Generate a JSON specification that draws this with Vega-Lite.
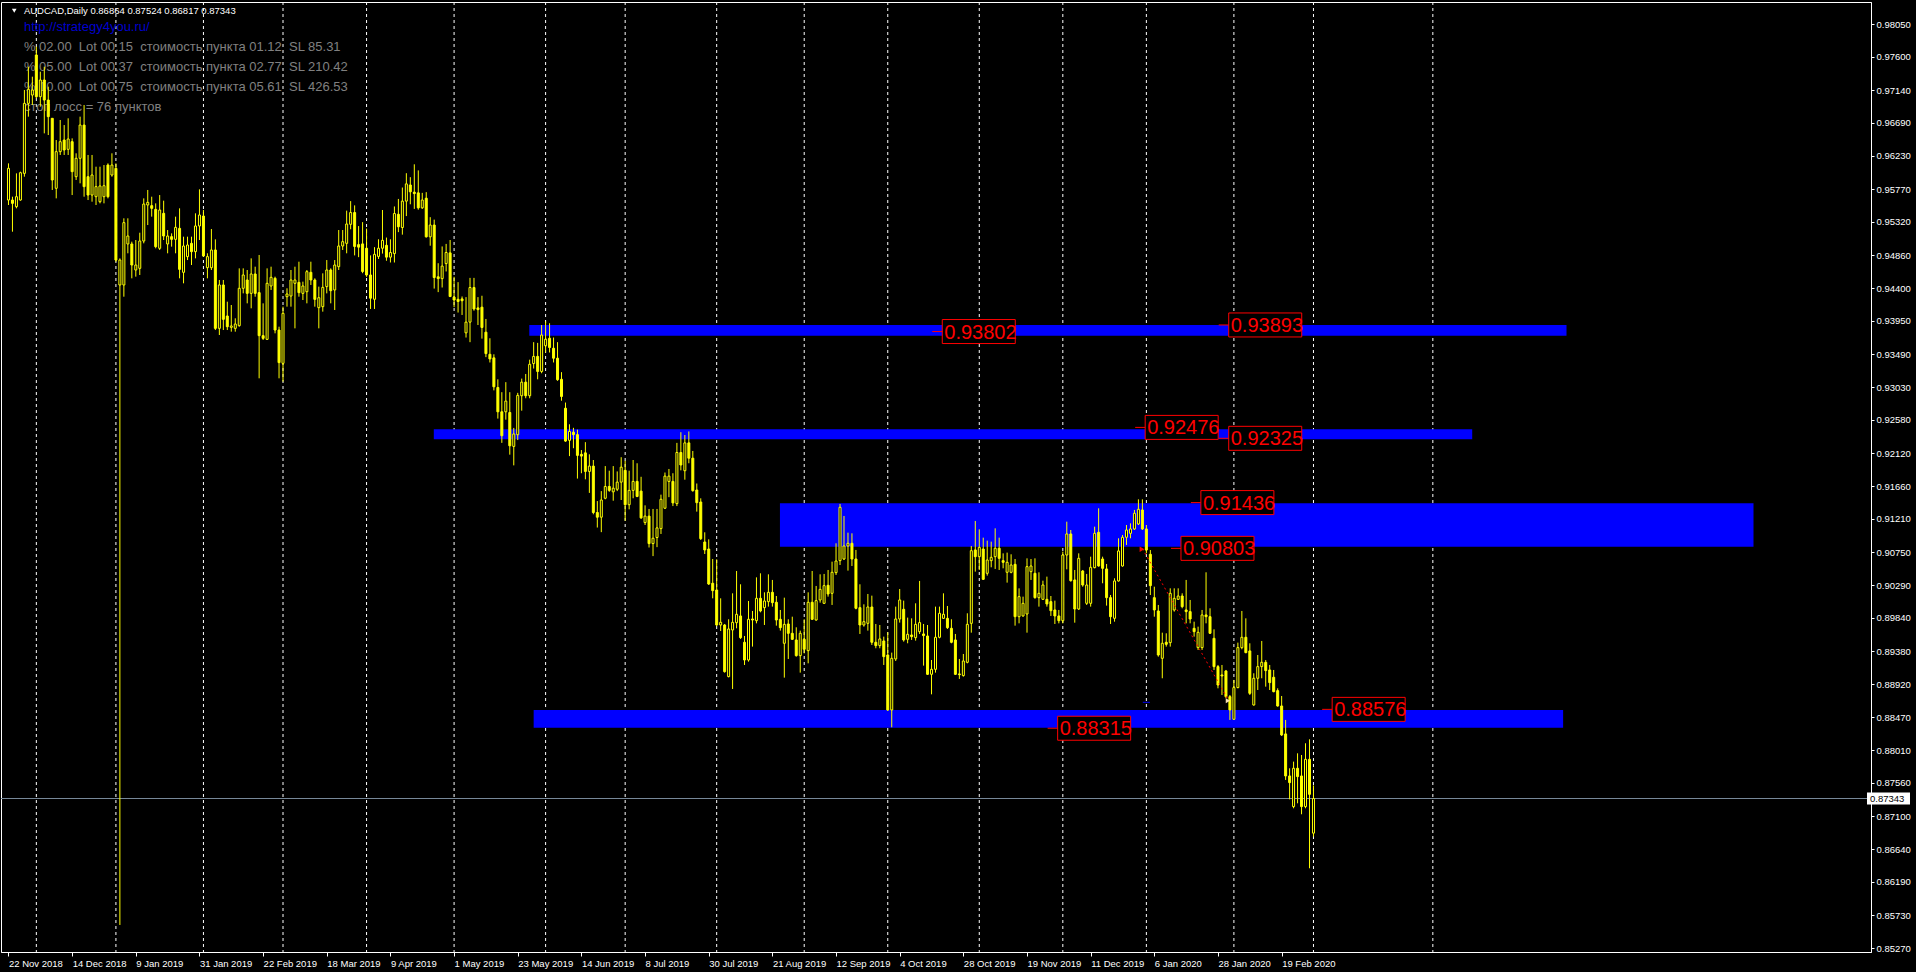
{
"$schema":"https://vega.github.io/schema/vega-lite/v6.json",
"width":1870,"height":950,
"autosize":{"type":"none"},
"padding":{"left":1,"top":2,"right":45,"bottom":20},
"background":"#000000",
"config":{"view":{"stroke":"#FFFFFF","strokeWidth":1},"font":"Liberation Sans",
 "axis":{"labelOverlap":false,"labelFlush":false,"grid":false,"labelColor":"#FFFFFF","tickColor":"#FFFFFF","domainColor":"#FFFFFF","labelFont":"Liberation Sans","labelFontSize":9.5,"labelSeparation":0}},
"datasets":{
"sep":[{"m":7},{"m":27},{"m":49},{"m":69},{"m":90},{"m":112},{"m":135},{"m":155},{"m":178},{"m":200},{"m":221},{"m":244},{"m":265},{"m":286},{"m":308},{"m":328},{"m":358}],
"zones":[{"t1":130.9,"t2":391.6,"p1":0.93892,"p2":0.93744},{"t1":106.9,"t2":367.9,"p1":0.92450,"p2":0.92312},{"t1":193.9,"t2":438.6,"p1":0.91426,"p2":0.90826},{"t1":132,"t2":390.75,"p1":0.88567,"p2":0.88323}],
"tags":[{"t":234.7,"p":0.93802},{"t":306.7,"p":0.93893},{"t":285.7,"p":0.92476},{"t":306.7,"p":0.92325},{"t":299.7,"p":0.91436},{"t":294.7,"p":0.90803},{"t":263.7,"p":0.88315},{"t":332.7,"p":0.88576}],
"bars":[
{"i":0,"o":0.95621,"h":0.96128,"l":0.95552,"c":0.96059},
{"i":1,"o":0.95621,"h":0.95667,"l":0.95183,"c":0.95575},
{"i":2,"o":0.95529,"h":0.95990,"l":0.95506,"c":0.95667},
{"i":3,"o":0.95621,"h":0.96013,"l":0.95612,"c":0.95999},
{"i":4,"o":0.95990,"h":0.97143,"l":0.95944,"c":0.96958},
{"i":5,"o":0.96958,"h":0.97465,"l":0.96774,"c":0.97152},
{"i":6,"o":0.97073,"h":0.97327,"l":0.96935,"c":0.97143},
{"i":7,"o":0.97627,"h":0.97742,"l":0.97027,"c":0.97050},
{"i":8,"o":0.97050,"h":0.97396,"l":0.96912,"c":0.97281},
{"i":9,"o":0.97281,"h":0.97465,"l":0.96543,"c":0.97004},
{"i":10,"o":0.97004,"h":0.97189,"l":0.96520,"c":0.96774},
{"i":11,"o":0.96751,"h":0.96751,"l":0.95760,"c":0.95898},
{"i":12,"o":0.95783,"h":0.96451,"l":0.95644,"c":0.96290},
{"i":13,"o":0.96290,"h":0.96728,"l":0.96244,"c":0.96428},
{"i":14,"o":0.96451,"h":0.96658,"l":0.96244,"c":0.96313},
{"i":15,"o":0.96322,"h":0.96751,"l":0.96244,"c":0.96465},
{"i":16,"o":0.96428,"h":0.96474,"l":0.95690,"c":0.96013},
{"i":17,"o":0.95944,"h":0.96267,"l":0.95898,"c":0.96198},
{"i":18,"o":0.96198,"h":0.96774,"l":0.95852,"c":0.96658},
{"i":19,"o":0.96658,"h":0.96935,"l":0.95667,"c":0.95806},
{"i":20,"o":0.95944,"h":0.96244,"l":0.95621,"c":0.95690},
{"i":21,"o":0.95690,"h":0.96244,"l":0.95598,"c":0.95967},
{"i":22,"o":0.95667,"h":0.96082,"l":0.95552,"c":0.95806},
{"i":23,"o":0.95598,"h":0.96082,"l":0.95575,"c":0.95815},
{"i":24,"o":0.95667,"h":0.96105,"l":0.95575,"c":0.95819},
{"i":25,"o":0.96105,"h":0.96128,"l":0.95644,"c":0.95667},
{"i":26,"o":0.95967,"h":0.96267,"l":0.95944,"c":0.96105},
{"i":27,"o":0.96059,"h":0.96128,"l":0.94768,"c":0.94791},
{"i":28,"o":0.94446,"h":0.94814,"l":0.85594,"c":0.94791},
{"i":29,"o":0.94446,"h":0.95368,"l":0.94284,"c":0.95308},
{"i":30,"o":0.95013,"h":0.95368,"l":0.94884,"c":0.95123},
{"i":31,"o":0.95013,"h":0.95045,"l":0.94538,"c":0.94722},
{"i":32,"o":0.94653,"h":0.95068,"l":0.94561,"c":0.94722},
{"i":33,"o":0.94676,"h":0.95169,"l":0.94584,"c":0.95054},
{"i":34,"o":0.95054,"h":0.95644,"l":0.95022,"c":0.95566},
{"i":35,"o":0.95552,"h":0.95760,"l":0.95275,"c":0.95589},
{"i":36,"o":0.95543,"h":0.95667,"l":0.95391,"c":0.95506},
{"i":37,"o":0.95492,"h":0.95575,"l":0.94953,"c":0.94976},
{"i":38,"o":0.94953,"h":0.95690,"l":0.94930,"c":0.95483},
{"i":39,"o":0.95437,"h":0.95612,"l":0.95068,"c":0.95123},
{"i":40,"o":0.95013,"h":0.95206,"l":0.94884,"c":0.95123},
{"i":41,"o":0.95114,"h":0.95160,"l":0.94976,"c":0.95077},
{"i":42,"o":0.95077,"h":0.95391,"l":0.94884,"c":0.95243},
{"i":43,"o":0.95229,"h":0.95506,"l":0.94538,"c":0.94662},
{"i":44,"o":0.94621,"h":0.95114,"l":0.94469,"c":0.94985},
{"i":45,"o":0.94838,"h":0.95114,"l":0.94791,"c":0.94999},
{"i":46,"o":0.95022,"h":0.95114,"l":0.94722,"c":0.94907},
{"i":47,"o":0.94907,"h":0.95437,"l":0.94814,"c":0.95262},
{"i":48,"o":0.95262,"h":0.95769,"l":0.95068,"c":0.95414},
{"i":49,"o":0.95400,"h":0.95483,"l":0.94838,"c":0.94847},
{"i":50,"o":0.94685,"h":0.94884,"l":0.94538,"c":0.94838},
{"i":51,"o":0.94685,"h":0.95220,"l":0.94653,"c":0.94930},
{"i":52,"o":0.94930,"h":0.95077,"l":0.93823,"c":0.93846},
{"i":53,"o":0.93846,"h":0.94515,"l":0.93754,"c":0.94446},
{"i":54,"o":0.94446,"h":0.94515,"l":0.93823,"c":0.93971},
{"i":55,"o":0.94017,"h":0.94215,"l":0.93823,"c":0.93869},
{"i":56,"o":0.93860,"h":0.94169,"l":0.93800,"c":0.93879},
{"i":57,"o":0.93846,"h":0.93985,"l":0.93800,"c":0.93906},
{"i":58,"o":0.93883,"h":0.94676,"l":0.93869,"c":0.94400},
{"i":59,"o":0.94400,"h":0.94676,"l":0.94330,"c":0.94584},
{"i":60,"o":0.94515,"h":0.94653,"l":0.94192,"c":0.94330},
{"i":61,"o":0.94330,"h":0.94814,"l":0.94123,"c":0.94598},
{"i":62,"o":0.94598,"h":0.94699,"l":0.94284,"c":0.94330},
{"i":63,"o":0.94340,"h":0.94861,"l":0.93155,"c":0.93745},
{"i":64,"o":0.93745,"h":0.94192,"l":0.93685,"c":0.93708},
{"i":65,"o":0.93694,"h":0.94676,"l":0.93685,"c":0.94469},
{"i":66,"o":0.94432,"h":0.94699,"l":0.94377,"c":0.94552},
{"i":67,"o":0.94538,"h":0.94561,"l":0.93777,"c":0.93823},
{"i":68,"o":0.93823,"h":0.93869,"l":0.93155,"c":0.93372},
{"i":69,"o":0.93362,"h":0.94146,"l":0.93109,"c":0.94054},
{"i":70,"o":0.94284,"h":0.94400,"l":0.94146,"c":0.94321},
{"i":71,"o":0.94293,"h":0.94653,"l":0.94146,"c":0.94515},
{"i":72,"o":0.94469,"h":0.94699,"l":0.93846,"c":0.94515},
{"i":73,"o":0.94482,"h":0.94768,"l":0.94284,"c":0.94340},
{"i":74,"o":0.94330,"h":0.94492,"l":0.94238,"c":0.94432},
{"i":75,"o":0.94353,"h":0.94653,"l":0.94192,"c":0.94630},
{"i":76,"o":0.94621,"h":0.94768,"l":0.94446,"c":0.94515},
{"i":77,"o":0.94515,"h":0.94538,"l":0.94146,"c":0.94247},
{"i":78,"o":0.94132,"h":0.94423,"l":0.93846,"c":0.94270},
{"i":79,"o":0.94146,"h":0.94607,"l":0.94077,"c":0.94413},
{"i":80,"o":0.94423,"h":0.94791,"l":0.94330,"c":0.94653},
{"i":81,"o":0.94653,"h":0.94676,"l":0.94192,"c":0.94367},
{"i":82,"o":0.94377,"h":0.94791,"l":0.94100,"c":0.94722},
{"i":83,"o":0.94699,"h":0.95206,"l":0.94653,"c":0.94985},
{"i":84,"o":0.94985,"h":0.95206,"l":0.94930,"c":0.95045},
{"i":85,"o":0.95022,"h":0.95474,"l":0.94884,"c":0.95289},
{"i":86,"o":0.95285,"h":0.95606,"l":0.95216,"c":0.95448},
{"i":87,"o":0.95448,"h":0.95547,"l":0.94855,"c":0.94979},
{"i":88,"o":0.95004,"h":0.95261,"l":0.94831,"c":0.94969},
{"i":89,"o":0.95014,"h":0.95315,"l":0.94609,"c":0.94633},
{"i":90,"o":0.94954,"h":0.95226,"l":0.94559,"c":0.94584},
{"i":91,"o":0.94584,"h":0.94855,"l":0.94114,"c":0.94263},
{"i":92,"o":0.94248,"h":0.94969,"l":0.94114,"c":0.94870},
{"i":93,"o":0.94841,"h":0.95078,"l":0.94806,"c":0.94954},
{"i":94,"o":0.94954,"h":0.95483,"l":0.94880,"c":0.95063},
{"i":95,"o":0.94994,"h":0.95102,"l":0.94781,"c":0.94831},
{"i":96,"o":0.94831,"h":0.95078,"l":0.94757,"c":0.94895},
{"i":97,"o":0.94880,"h":0.95532,"l":0.94757,"c":0.95434},
{"i":98,"o":0.95424,"h":0.95636,"l":0.95177,"c":0.95251},
{"i":99,"o":0.95241,"h":0.95794,"l":0.95142,"c":0.95606},
{"i":100,"o":0.95606,"h":0.95992,"l":0.95399,"c":0.95844},
{"i":101,"o":0.95829,"h":0.95937,"l":0.95562,"c":0.95735},
{"i":102,"o":0.95730,"h":0.96115,"l":0.95498,"c":0.95710},
{"i":103,"o":0.95720,"h":0.96031,"l":0.95488,"c":0.95513},
{"i":104,"o":0.95513,"h":0.95720,"l":0.95498,"c":0.95621},
{"i":105,"o":0.95646,"h":0.95730,"l":0.95102,"c":0.95112},
{"i":106,"o":0.95112,"h":0.95384,"l":0.94989,"c":0.95275},
{"i":107,"o":0.95275,"h":0.95350,"l":0.94396,"c":0.94549},
{"i":108,"o":0.94559,"h":0.94747,"l":0.94347,"c":0.94534},
{"i":109,"o":0.94534,"h":0.94979,"l":0.94411,"c":0.94707},
{"i":110,"o":0.94742,"h":0.95014,"l":0.94633,"c":0.94895},
{"i":111,"o":0.94890,"h":0.95068,"l":0.94278,"c":0.94287},
{"i":112,"o":0.94278,"h":0.94559,"l":0.94139,"c":0.94238},
{"i":113,"o":0.94248,"h":0.94485,"l":0.94065,"c":0.94218},
{"i":114,"o":0.94253,"h":0.94287,"l":0.94031,"c":0.94228},
{"i":115,"o":0.93784,"h":0.94278,"l":0.93719,"c":0.93932},
{"i":116,"o":0.93932,"h":0.94544,"l":0.93655,"c":0.94411},
{"i":117,"o":0.94411,"h":0.94544,"l":0.94090,"c":0.94114},
{"i":118,"o":0.94129,"h":0.94278,"l":0.93892,"c":0.94105},
{"i":119,"o":0.94139,"h":0.94297,"l":0.93704,"c":0.93858},
{"i":120,"o":0.93793,"h":0.93976,"l":0.93448,"c":0.93497},
{"i":121,"o":0.93487,"h":0.93709,"l":0.93374,"c":0.93423},
{"i":122,"o":0.93438,"h":0.93487,"l":0.92988,"c":0.93038},
{"i":123,"o":0.93028,"h":0.93141,"l":0.92598,"c":0.92692},
{"i":124,"o":0.92692,"h":0.92963,"l":0.92262,"c":0.92361},
{"i":125,"o":0.92692,"h":0.93102,"l":0.92583,"c":0.92840},
{"i":126,"o":0.92682,"h":0.92963,"l":0.92099,"c":0.92222},
{"i":127,"o":0.92213,"h":0.92469,"l":0.91951,"c":0.92385},
{"i":128,"o":0.92375,"h":0.92954,"l":0.92301,"c":0.92919},
{"i":129,"o":0.92914,"h":0.93151,"l":0.92707,"c":0.93102},
{"i":130,"o":0.93102,"h":0.93215,"l":0.92879,"c":0.92914},
{"i":131,"o":0.92914,"h":0.93413,"l":0.92879,"c":0.93349},
{"i":132,"o":0.93359,"h":0.93655,"l":0.93290,"c":0.93458},
{"i":133,"o":0.93458,"h":0.93645,"l":0.93141,"c":0.93250},
{"i":134,"o":0.93250,"h":0.93892,"l":0.93225,"c":0.93754},
{"i":135,"o":0.93606,"h":0.93942,"l":0.93512,"c":0.93695},
{"i":136,"o":0.93709,"h":0.93917,"l":0.93512,"c":0.93581},
{"i":137,"o":0.93571,"h":0.93719,"l":0.93374,"c":0.93433},
{"i":138,"o":0.93433,"h":0.93655,"l":0.93120,"c":0.93136},
{"i":139,"o":0.93141,"h":0.93240,"l":0.92845,"c":0.92904},
{"i":140,"o":0.92741,"h":0.92820,"l":0.92277,"c":0.92287},
{"i":141,"o":0.92297,"h":0.92519,"l":0.92079,"c":0.92420},
{"i":142,"o":0.92410,"h":0.92470,"l":0.92188,"c":0.92376},
{"i":143,"o":0.92376,"h":0.92445,"l":0.91768,"c":0.92089},
{"i":144,"o":0.92104,"h":0.92163,"l":0.91842,"c":0.92079},
{"i":145,"o":0.92124,"h":0.92272,"l":0.91758,"c":0.91867},
{"i":146,"o":0.91867,"h":0.92104,"l":0.91570,"c":0.91941},
{"i":147,"o":0.91941,"h":0.92025,"l":0.91274,"c":0.91299},
{"i":148,"o":0.91299,"h":0.91457,"l":0.91091,"c":0.91234},
{"i":149,"o":0.91234,"h":0.91595,"l":0.91027,"c":0.91472},
{"i":150,"o":0.91496,"h":0.91941,"l":0.91482,"c":0.91659},
{"i":151,"o":0.91659,"h":0.91877,"l":0.91585,"c":0.91605},
{"i":152,"o":0.91585,"h":0.91941,"l":0.91462,"c":0.91635},
{"i":153,"o":0.91620,"h":0.91867,"l":0.91595,"c":0.91719},
{"i":154,"o":0.91719,"h":0.92064,"l":0.91472,"c":0.91926},
{"i":155,"o":0.91882,"h":0.92015,"l":0.91185,"c":0.91407},
{"i":156,"o":0.91407,"h":0.91877,"l":0.91343,"c":0.91605},
{"i":157,"o":0.91605,"h":0.92025,"l":0.91496,"c":0.91729},
{"i":158,"o":0.91729,"h":0.91980,"l":0.91511,"c":0.91521},
{"i":159,"o":0.91595,"h":0.91793,"l":0.91210,"c":0.91225},
{"i":160,"o":0.91160,"h":0.91398,"l":0.91126,"c":0.91249},
{"i":161,"o":0.91249,"h":0.91348,"l":0.90815,"c":0.90869},
{"i":162,"o":0.90869,"h":0.91348,"l":0.90696,"c":0.90943},
{"i":163,"o":0.90953,"h":0.91348,"l":0.90820,"c":0.91086},
{"i":164,"o":0.91076,"h":0.91546,"l":0.91002,"c":0.91482},
{"i":165,"o":0.91358,"h":0.91852,"l":0.91348,"c":0.91802},
{"i":166,"o":0.91729,"h":0.91901,"l":0.91511,"c":0.91802},
{"i":167,"o":0.91729,"h":0.91842,"l":0.91388,"c":0.91432},
{"i":168,"o":0.91422,"h":0.92262,"l":0.91388,"c":0.92129},
{"i":169,"o":0.92129,"h":0.92410,"l":0.91882,"c":0.91956},
{"i":170,"o":0.91877,"h":0.92371,"l":0.91753,"c":0.92262},
{"i":171,"o":0.92262,"h":0.92420,"l":0.91980,"c":0.92050},
{"i":172,"o":0.92050,"h":0.92150,"l":0.91587,"c":0.91601},
{"i":173,"o":0.91610,"h":0.91700,"l":0.91311,"c":0.91435},
{"i":174,"o":0.91444,"h":0.91495,"l":0.90919,"c":0.90937},
{"i":175,"o":0.90891,"h":0.91025,"l":0.90725,"c":0.90781},
{"i":176,"o":0.90794,"h":0.90928,"l":0.90296,"c":0.90310},
{"i":177,"o":0.90320,"h":0.90656,"l":0.90112,"c":0.90218},
{"i":178,"o":0.90227,"h":0.90651,"l":0.89729,"c":0.89743},
{"i":179,"o":0.89743,"h":0.90112,"l":0.89660,"c":0.89780},
{"i":180,"o":0.89743,"h":0.89757,"l":0.89084,"c":0.89098},
{"i":181,"o":0.89029,"h":0.89822,"l":0.89019,"c":0.89688},
{"i":182,"o":0.89674,"h":0.90181,"l":0.88858,"c":0.89780},
{"i":183,"o":0.89775,"h":0.90490,"l":0.89697,"c":0.89891},
{"i":184,"o":0.89868,"h":0.90306,"l":0.89550,"c":0.89568},
{"i":185,"o":0.89504,"h":0.89591,"l":0.89190,"c":0.89259},
{"i":186,"o":0.89259,"h":0.90075,"l":0.89236,"c":0.89822},
{"i":187,"o":0.89826,"h":0.89937,"l":0.89444,"c":0.89812},
{"i":188,"o":0.89803,"h":0.90402,"l":0.89766,"c":0.90112},
{"i":189,"o":0.90112,"h":0.90458,"l":0.89918,"c":0.89937},
{"i":190,"o":0.89983,"h":0.90195,"l":0.89743,"c":0.90075},
{"i":191,"o":0.90066,"h":0.90444,"l":0.89997,"c":0.90195},
{"i":192,"o":0.90195,"h":0.90366,"l":0.89997,"c":0.90052},
{"i":193,"o":0.90057,"h":0.90144,"l":0.89734,"c":0.89812},
{"i":194,"o":0.89822,"h":0.89951,"l":0.89665,"c":0.89706},
{"i":195,"o":0.89490,"h":0.90121,"l":0.89015,"c":0.89752},
{"i":196,"o":0.89757,"h":0.89822,"l":0.89273,"c":0.89628},
{"i":197,"o":0.89628,"h":0.89858,"l":0.89536,"c":0.89545},
{"i":198,"o":0.89536,"h":0.89711,"l":0.89305,"c":0.89319},
{"i":199,"o":0.89319,"h":0.89665,"l":0.89084,"c":0.89628},
{"i":200,"o":0.89545,"h":0.89822,"l":0.89351,"c":0.89407},
{"i":201,"o":0.89388,"h":0.90195,"l":0.89213,"c":0.90057},
{"i":202,"o":0.90057,"h":0.90490,"l":0.89812,"c":0.89822},
{"i":203,"o":0.89812,"h":0.90283,"l":0.89803,"c":0.90080},
{"i":204,"o":0.90089,"h":0.90444,"l":0.90052,"c":0.90236},
{"i":205,"o":0.90043,"h":0.90449,"l":0.90034,"c":0.90287},
{"i":206,"o":0.90292,"h":0.90504,"l":0.90135,"c":0.90172},
{"i":207,"o":0.90181,"h":0.90619,"l":0.90020,"c":0.90472},
{"i":208,"o":0.90467,"h":0.90873,"l":0.90435,"c":0.90628},
{"i":209,"o":0.90633,"h":0.91417,"l":0.90573,"c":0.91371},
{"i":210,"o":0.90656,"h":0.91251,"l":0.90642,"c":0.90836},
{"i":211,"o":0.90836,"h":0.91020,"l":0.90495,"c":0.90873},
{"i":212,"o":0.90873,"h":0.91011,"l":0.90559,"c":0.90656},
{"i":213,"o":0.90656,"h":0.90781,"l":0.89960,"c":0.89974},
{"i":214,"o":0.89983,"h":0.90306,"l":0.89619,"c":0.89743},
{"i":215,"o":0.89743,"h":0.90029,"l":0.89720,"c":0.89789},
{"i":216,"o":0.89766,"h":0.90172,"l":0.89665,"c":0.89992},
{"i":217,"o":0.89992,"h":0.90149,"l":0.89467,"c":0.89504},
{"i":218,"o":0.89504,"h":0.89757,"l":0.89421,"c":0.89458},
{"i":219,"o":0.89458,"h":0.89743,"l":0.89421,"c":0.89550},
{"i":220,"o":0.89522,"h":0.89582,"l":0.89190,"c":0.89305},
{"i":221,"o":0.89328,"h":0.89642,"l":0.88554,"c":0.88568},
{"i":222,"o":0.88568,"h":0.89361,"l":0.88328,"c":0.89282},
{"i":223,"o":0.89273,"h":0.89997,"l":0.89245,"c":0.89826},
{"i":224,"o":0.89826,"h":0.90241,"l":0.89776,"c":0.90089},
{"i":225,"o":0.89960,"h":0.90080,"l":0.89513,"c":0.89536},
{"i":226,"o":0.89545,"h":0.89845,"l":0.89490,"c":0.89614},
{"i":227,"o":0.89605,"h":0.89835,"l":0.89536,"c":0.89582},
{"i":228,"o":0.89568,"h":0.90043,"l":0.89527,"c":0.89752},
{"i":229,"o":0.89651,"h":0.90352,"l":0.89619,"c":0.89776},
{"i":230,"o":0.89619,"h":0.89757,"l":0.89181,"c":0.89596},
{"i":231,"o":0.89591,"h":0.89743,"l":0.89052,"c":0.89061},
{"i":232,"o":0.89061,"h":0.89259,"l":0.88784,"c":0.89130},
{"i":233,"o":0.89130,"h":0.89997,"l":0.89084,"c":0.89573},
{"i":234,"o":0.89573,"h":0.89997,"l":0.89559,"c":0.89905},
{"i":235,"o":0.89835,"h":0.90181,"l":0.89826,"c":0.89891},
{"i":236,"o":0.89835,"h":0.90006,"l":0.89688,"c":0.89706},
{"i":237,"o":0.89697,"h":0.89822,"l":0.89490,"c":0.89504},
{"i":238,"o":0.89536,"h":0.89619,"l":0.89052,"c":0.89061},
{"i":239,"o":0.89066,"h":0.89273,"l":0.88997,"c":0.89056},
{"i":240,"o":0.89043,"h":0.89342,"l":0.89029,"c":0.89245},
{"i":241,"o":0.89227,"h":0.89905,"l":0.89213,"c":0.89752},
{"i":242,"o":0.89766,"h":0.90836,"l":0.89637,"c":0.90771},
{"i":243,"o":0.90781,"h":0.91182,"l":0.90481,"c":0.90688},
{"i":244,"o":0.90688,"h":0.91066,"l":0.90504,"c":0.90817},
{"i":245,"o":0.90794,"h":0.90951,"l":0.90366,"c":0.90375},
{"i":246,"o":0.90458,"h":0.90910,"l":0.90426,"c":0.90642},
{"i":247,"o":0.90633,"h":0.90896,"l":0.90541,"c":0.90679},
{"i":248,"o":0.90688,"h":0.91080,"l":0.90518,"c":0.90804},
{"i":249,"o":0.90804,"h":0.90951,"l":0.90504,"c":0.90665},
{"i":250,"o":0.90633,"h":0.90734,"l":0.90527,"c":0.90610},
{"i":251,"o":0.90472,"h":0.90744,"l":0.90329,"c":0.90610},
{"i":252,"o":0.90472,"h":0.90721,"l":0.90458,"c":0.90573},
{"i":253,"o":0.90582,"h":0.90656,"l":0.89734,"c":0.89858},
{"i":254,"o":0.89858,"h":0.90250,"l":0.89766,"c":0.90135},
{"i":255,"o":0.89868,"h":0.90135,"l":0.89858,"c":0.90043},
{"i":256,"o":0.89895,"h":0.90665,"l":0.89637,"c":0.90550},
{"i":257,"o":0.90481,"h":0.90656,"l":0.90366,"c":0.90559},
{"i":258,"o":0.90458,"h":0.90665,"l":0.90107,"c":0.90121},
{"i":259,"o":0.90121,"h":0.90472,"l":0.89997,"c":0.90181},
{"i":260,"o":0.90098,"h":0.90356,"l":0.90089,"c":0.90296},
{"i":261,"o":0.90098,"h":0.90412,"l":0.89997,"c":0.90034},
{"i":262,"o":0.90066,"h":0.90144,"l":0.89868,"c":0.89941},
{"i":263,"o":0.89951,"h":0.90080,"l":0.89757,"c":0.89868},
{"i":264,"o":0.89868,"h":0.89951,"l":0.89766,"c":0.89803},
{"i":265,"o":0.89803,"h":0.90757,"l":0.89766,"c":0.90711},
{"i":266,"o":0.90711,"h":0.91172,"l":0.90513,"c":0.91002},
{"i":267,"o":0.91002,"h":0.91057,"l":0.90343,"c":0.90356},
{"i":268,"o":0.90366,"h":0.90504,"l":0.89775,"c":0.89964},
{"i":269,"o":0.89964,"h":0.90734,"l":0.89951,"c":0.90665},
{"i":270,"o":0.90490,"h":0.90504,"l":0.90273,"c":0.90296},
{"i":271,"o":0.90043,"h":0.90449,"l":0.90020,"c":0.90296},
{"i":272,"o":0.90043,"h":0.90688,"l":0.89997,"c":0.90541},
{"i":273,"o":0.90536,"h":0.91103,"l":0.90527,"c":0.91011},
{"i":274,"o":0.91025,"h":0.91357,"l":0.90550,"c":0.90559},
{"i":275,"o":0.90656,"h":0.90688,"l":0.90320,"c":0.90527},
{"i":276,"o":0.90518,"h":0.90587,"l":0.90011,"c":0.90121},
{"i":277,"o":0.90121,"h":0.90158,"l":0.89757,"c":0.89858},
{"i":278,"o":0.89835,"h":0.90389,"l":0.89789,"c":0.90352},
{"i":279,"o":0.90352,"h":0.90942,"l":0.90343,"c":0.90767},
{"i":280,"o":0.90559,"h":0.90988,"l":0.90550,"c":0.90956},
{"i":281,"o":0.90956,"h":0.91126,"l":0.90850,"c":0.91057},
{"i":282,"o":0.91011,"h":0.91149,"l":0.90942,"c":0.91071},
{"i":283,"o":0.91071,"h":0.91334,"l":0.91057,"c":0.91288},
{"i":284,"o":0.91140,"h":0.91481,"l":0.91126,"c":0.91343},
{"i":285,"o":0.91334,"h":0.91481,"l":0.91057,"c":0.91071},
{"i":286,"o":0.91071,"h":0.91126,"l":0.90734,"c":0.90780},
{"i":287,"o":0.90721,"h":0.90780,"l":0.90158,"c":0.90287},
{"i":288,"o":0.90121,"h":0.90273,"l":0.89858,"c":0.89951},
{"i":289,"o":0.89937,"h":0.90020,"l":0.89305,"c":0.89328},
{"i":290,"o":0.89282,"h":0.89637,"l":0.89006,"c":0.89490},
{"i":291,"o":0.89504,"h":0.89628,"l":0.89444,"c":0.89476},
{"i":292,"o":0.89499,"h":0.90250,"l":0.89444,"c":0.90181},
{"i":293,"o":0.89951,"h":0.90250,"l":0.89928,"c":0.90112},
{"i":294,"o":0.90098,"h":0.90250,"l":0.90089,"c":0.90144},
{"i":295,"o":0.90144,"h":0.90181,"l":0.89974,"c":0.89997},
{"i":296,"o":0.89951,"h":0.90366,"l":0.89766,"c":0.89928},
{"i":297,"o":0.89928,"h":0.90089,"l":0.89766,"c":0.89826},
{"i":298,"o":0.89697,"h":0.89789,"l":0.89582,"c":0.89651},
{"i":299,"o":0.89430,"h":0.89720,"l":0.89398,"c":0.89642},
{"i":300,"o":0.89430,"h":0.89951,"l":0.89398,"c":0.89882},
{"i":301,"o":0.89882,"h":0.90472,"l":0.89766,"c":0.89858},
{"i":302,"o":0.89858,"h":0.89974,"l":0.89619,"c":0.89628},
{"i":303,"o":0.89559,"h":0.89683,"l":0.89121,"c":0.89167},
{"i":304,"o":0.89167,"h":0.89190,"l":0.88867,"c":0.88913},
{"i":305,"o":0.89052,"h":0.89190,"l":0.88775,"c":0.89038},
{"i":306,"o":0.89107,"h":0.89121,"l":0.88729,"c":0.88752},
{"i":307,"o":0.88752,"h":0.88775,"l":0.88430,"c":0.88568},
{"i":308,"o":0.88439,"h":0.88983,"l":0.88430,"c":0.88877},
{"i":309,"o":0.88877,"h":0.89499,"l":0.88867,"c":0.89430},
{"i":310,"o":0.89430,"h":0.89937,"l":0.89407,"c":0.89573},
{"i":311,"o":0.89573,"h":0.89835,"l":0.89352,"c":0.89361},
{"i":312,"o":0.89384,"h":0.89490,"l":0.88775,"c":0.88798},
{"i":313,"o":0.88637,"h":0.89075,"l":0.88628,"c":0.89006},
{"i":314,"o":0.89006,"h":0.89328,"l":0.88844,"c":0.89167},
{"i":315,"o":0.89167,"h":0.89522,"l":0.89006,"c":0.89227},
{"i":316,"o":0.89227,"h":0.89259,"l":0.88890,"c":0.89112},
{"i":317,"o":0.89121,"h":0.89190,"l":0.88844,"c":0.88946},
{"i":318,"o":0.89020,"h":0.89121,"l":0.88812,"c":0.88821},
{"i":319,"o":0.88835,"h":0.88867,"l":0.88614,"c":0.88623},
{"i":320,"o":0.88623,"h":0.88761,"l":0.88208,"c":0.88222},
{"i":321,"o":0.88236,"h":0.88430,"l":0.87600,"c":0.87655},
{"i":322,"o":0.87655,"h":0.87761,"l":0.87332,"c":0.87563},
{"i":323,"o":0.87231,"h":0.87853,"l":0.87208,"c":0.87761},
{"i":324,"o":0.87761,"h":0.87968,"l":0.87277,"c":0.87646},
{"i":325,"o":0.87655,"h":0.87945,"l":0.87125,"c":0.87231},
{"i":326,"o":0.87231,"h":0.88107,"l":0.87208,"c":0.87885},
{"i":327,"o":0.87885,"h":0.88162,"l":0.86378,"c":0.87401},
{"i":328,"o":0.86864,"h":0.87524,"l":0.86817,"c":0.87343}
]},
"layer":[
{"data":{"name":"sep"},"mark":{"type":"rule","color":"#FFFFFF","strokeDash":[3,3],"strokeWidth":1},
 "encoding":{"x":{"field":"m","type":"quantitative","scale":{"domain":[-0.625,466.875],"nice":false,"zero":false},
  "axis":{"values":[0,16,32,48,64,80,96,112,128,144,160,176,192,208,224,240,256,272,288,304,320],"tickCount":60,
   "labelExpr":"['22 Nov 2018','14 Dec 2018','9 Jan 2019','31 Jan 2019','22 Feb 2019','18 Mar 2019','9 Apr 2019','1 May 2019','23 May 2019','14 Jun 2019','8 Jul 2019','30 Jul 2019','21 Aug 2019','12 Sep 2019','4 Oct 2019','28 Oct 2019','19 Nov 2019','11 Dec 2019','6 Jan 2020','28 Jan 2020','19 Feb 2020'][round(datum.value/16)]",
   "labelAlign":"left","labelBaseline":"top","labelFlush":false,"labelOverlap":false,"labelPadding":2,"labelDx":1,"tickSize":4,"title":null}}}},
{"data":{"name":"zones"},"mark":{"type":"rect","color":"#0000FF"},
 "encoding":{"x":{"field":"t1","type":"quantitative","scale":{"domain":[-0.625,466.875],"nice":false,"zero":false}},"x2":{"field":"t2"},
  "y":{"field":"p1","type":"quantitative","scale":{"domain":[0.85220,0.98360],"nice":false,"zero":false},
   "axis":{"orient":"right","values":[0.98050,0.97600,0.97140,0.96690,0.96230,0.95770,0.95320,0.94860,0.94400,0.93950,0.93490,0.93030,0.92580,0.92120,0.91660,0.91210,0.90750,0.90290,0.89840,0.89380,0.88920,0.88470,0.88010,0.87560,0.87100,0.86640,0.86190,0.85730,0.85270],"tickCount":60,
    "format":".5f","labelFlush":false,"labelOverlap":false,"labelPadding":2,"tickSize":3,"title":null}},"y2":{"field":"p2"}}},
{"data":{"values":[{}]},"mark":{"type":"text","align":"left","baseline":"middle","font":"Liberation Sans","fontSize":9.5,"color":"#FFFFFF","text":"AUDCAD,Daily  0.86864 0.87524 0.86817 0.87343"},
 "encoding":{"x":{"datum":3.875,"type":"quantitative","scale":{"domain":[-0.625,466.875],"nice":false,"zero":false}},"y":{"datum":0.98240,"type":"quantitative","scale":{"domain":[0.85220,0.98360],"nice":false,"zero":false}}}},
{"data":{"values":[{}]},"mark":{"type":"point","shape":"triangle-down","size":22,"filled":true,"color":"#FFFFFF","opacity":1},
 "encoding":{"x":{"datum":1.45,"type":"quantitative","scale":{"domain":[-0.625,466.875],"nice":false,"zero":false}},"y":{"datum":0.98240,"type":"quantitative","scale":{"domain":[0.85220,0.98360],"nice":false,"zero":false}}}},
{"data":{"values":[{}]},"mark":{"type":"text","align":"left","baseline":"middle","font":"Liberation Sans","fontSize":13,"color":"#0000CD","text":"http://strategy4you.ru/"},
 "encoding":{"x":{"datum":3.875,"type":"quantitative","scale":{"domain":[-0.625,466.875],"nice":false,"zero":false}},"y":{"datum":0.98014,"type":"quantitative","scale":{"domain":[0.85220,0.98360],"nice":false,"zero":false}}}},
{"data":{"values":[{}]},"mark":{"type":"text","align":"left","baseline":"middle","font":"Liberation Sans","fontSize":13,"color":"#808080","text":"% 02.00 \u00a0Lot 00.15 \u00a0стоимость пункта 01.12 \u00a0SL 85.31"},
 "encoding":{"x":{"datum":3.875,"type":"quantitative","scale":{"domain":[-0.625,466.875],"nice":false,"zero":false}},"y":{"datum":0.97742,"type":"quantitative","scale":{"domain":[0.85220,0.98360],"nice":false,"zero":false}}}},
{"data":{"values":[{}]},"mark":{"type":"text","align":"left","baseline":"middle","font":"Liberation Sans","fontSize":13,"color":"#808080","text":"% 05.00 \u00a0Lot 00.37 \u00a0стоимость пункта 02.77 \u00a0SL 210.42"},
 "encoding":{"x":{"datum":3.875,"type":"quantitative","scale":{"domain":[-0.625,466.875],"nice":false,"zero":false}},"y":{"datum":0.97465,"type":"quantitative","scale":{"domain":[0.85220,0.98360],"nice":false,"zero":false}}}},
{"data":{"values":[{}]},"mark":{"type":"text","align":"left","baseline":"middle","font":"Liberation Sans","fontSize":13,"color":"#808080","text":"% 10.00 \u00a0Lot 00.75 \u00a0стоимость пункта 05.61 \u00a0SL 426.53"},
 "encoding":{"x":{"datum":3.875,"type":"quantitative","scale":{"domain":[-0.625,466.875],"nice":false,"zero":false}},"y":{"datum":0.97188,"type":"quantitative","scale":{"domain":[0.85220,0.98360],"nice":false,"zero":false}}}},
{"data":{"values":[{}]},"mark":{"type":"text","align":"left","baseline":"middle","font":"Liberation Sans","fontSize":13,"color":"#808080","text":"стоп лосс = 76 пунктов"},
 "encoding":{"x":{"datum":3.875,"type":"quantitative","scale":{"domain":[-0.625,466.875],"nice":false,"zero":false}},"y":{"datum":0.96912,"type":"quantitative","scale":{"domain":[0.85220,0.98360],"nice":false,"zero":false}}}},
{"data":{"values":[{}]},"mark":{"type":"rule","color":"#778899","strokeWidth":1},
 "encoding":{"y":{"datum":0.87343,"type":"quantitative","scale":{"domain":[0.85220,0.98360],"nice":false,"zero":false}}}},
{"data":{"name":"bars"},"mark":{"type":"rule","color":"#FFFF00","strokeWidth":1},
 "encoding":{"x":{"field":"i","type":"quantitative","scale":{"domain":[-0.625,466.875],"nice":false,"zero":false}},
  "y":{"field":"l","type":"quantitative","scale":{"domain":[0.85220,0.98360],"nice":false,"zero":false}},
  "y2":{"field":"h"}}},
{"data":{"name":"bars"},"mark":{"type":"bar","size":2,"stroke":"#FFFF00","strokeWidth":1},
 "encoding":{"x":{"field":"i","type":"quantitative","scale":{"domain":[-0.625,466.875],"nice":false,"zero":false}},
  "y":{"field":"o","type":"quantitative","scale":{"domain":[0.85220,0.98360],"nice":false,"zero":false}},
  "y2":{"field":"c"},
  "fill":{"condition":{"test":"datum.c < datum.o","value":"#FFFF00"},"value":"#000000"}}},
{"data":{"values":[{}]},"mark":{"type":"rule","color":"#FF0000","strokeDash":[2,3],"strokeWidth":1},
 "encoding":{"x":{"datum":285,"type":"quantitative","scale":{"domain":[-0.625,466.875],"nice":false,"zero":false}},"y":{"datum":0.90800,"type":"quantitative","scale":{"domain":[0.85220,0.98360],"nice":false,"zero":false}},"x2":{"datum":306.6},"y2":{"datum":0.88706}}},
{"data":{"values":[{}]},"mark":{"type":"rule","color":"#0000FF","strokeWidth":1},
 "encoding":{"x":{"datum":285.1,"type":"quantitative","scale":{"domain":[-0.625,466.875],"nice":false,"zero":false}},"y":{"datum":0.88674,"type":"quantitative","scale":{"domain":[0.85220,0.98360],"nice":false,"zero":false}},"x2":{"datum":286.9}}},
{"data":{"values":[{}]},"mark":{"type":"point","shape":"triangle-right","size":30,"filled":true,"color":"#FF0000","opacity":1},
 "encoding":{"x":{"datum":284.9,"type":"quantitative","scale":{"domain":[-0.625,466.875],"nice":false,"zero":false}},"y":{"datum":0.90790,"type":"quantitative","scale":{"domain":[0.85220,0.98360],"nice":false,"zero":false}}}},
{"data":{"values":[{}]},"mark":{"type":"point","shape":"triangle-right","size":25,"filled":true,"color":"#F5DEB3","opacity":1},
 "encoding":{"x":{"datum":306.5,"type":"quantitative","scale":{"domain":[-0.625,466.875],"nice":false,"zero":false}},"y":{"datum":0.88696,"type":"quantitative","scale":{"domain":[0.85220,0.98360],"nice":false,"zero":false}}}},
{"data":{"name":"tags"},"mark":{"type":"point","shape":"M-10,0L0,0M0,-12L73,-12L73,12L0,12Z","size":4,"filled":true,"fill":"#000000","stroke":"#FF0000","strokeWidth":1,"opacity":1},
 "encoding":{"x":{"field":"t","type":"quantitative","scale":{"domain":[-0.625,466.875],"nice":false,"zero":false}},"y":{"field":"p","type":"quantitative","scale":{"domain":[0.85220,0.98360],"nice":false,"zero":false}}}},
{"data":{"name":"tags"},"mark":{"type":"text","align":"left","baseline":"middle","dx":2,"dy":1,"font":"Liberation Sans","fontSize":20,"color":"#FF0000"},
 "encoding":{"x":{"field":"t","type":"quantitative","scale":{"domain":[-0.625,466.875],"nice":false,"zero":false}},"y":{"field":"p","type":"quantitative","scale":{"domain":[0.85220,0.98360],"nice":false,"zero":false}},"text":{"field":"p","type":"quantitative","format":".5f"}}},
{"data":{"values":[{}]},"mark":{"type":"point","shape":"M0,-6L43,-6L43,6L0,6Z","size":4,"filled":true,"fill":"#FFFFFF","strokeWidth":0,"opacity":1},
 "encoding":{"x":{"datum":467.125,"type":"quantitative","scale":{"domain":[-0.625,466.875],"nice":false,"zero":false}},"y":{"datum":0.87343,"type":"quantitative","scale":{"domain":[0.85220,0.98360],"nice":false,"zero":false}}}},
{"data":{"values":[{}]},"mark":{"type":"text","align":"left","baseline":"middle","dx":3,"font":"Liberation Sans","fontSize":9.5,"color":"#000000","text":"0.87343"},
 "encoding":{"x":{"datum":467.125,"type":"quantitative","scale":{"domain":[-0.625,466.875],"nice":false,"zero":false}},"y":{"datum":0.87343,"type":"quantitative","scale":{"domain":[0.85220,0.98360],"nice":false,"zero":false}}}}
]
}
